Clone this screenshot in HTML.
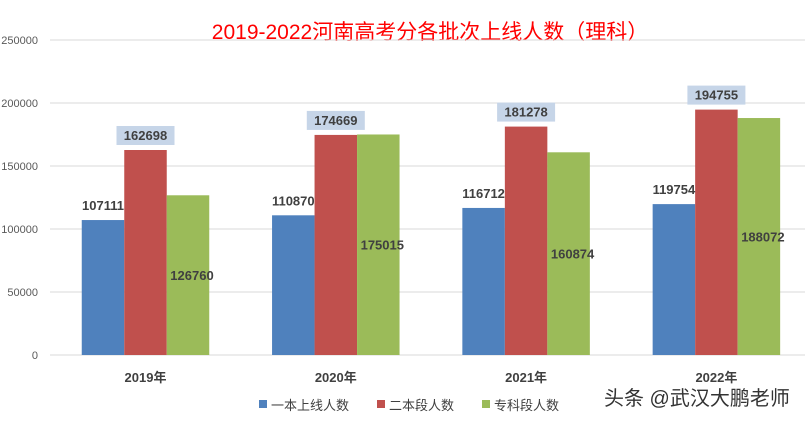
<!DOCTYPE html>
<html><head><meta charset="utf-8"><style>
body{margin:0;background:#fff;width:808px;height:421px;overflow:hidden}
svg text{font-family:"Liberation Sans","Noto Sans CJK SC",sans-serif}
</style></head><body>
<svg id="chart" width="808" height="421">
<text x="430" y="39" text-anchor="middle" font-size="21" fill="#ff0000">2019-2022河南高考分各批次上线人数（理科）</text>
<g id="grid"></g><g id="bars"></g><g id="labels"></g>
<g>
<rect x="259" y="400" width="8" height="8" fill="#4f81bd"/>
<text x="271" y="410" font-size="13" fill="#404040">一本上线人数</text>
<rect x="377" y="400" width="8" height="8" fill="#c0504d"/>
<text x="389" y="410" font-size="13" fill="#404040">二本段人数</text>
<rect x="482" y="400" width="8" height="8" fill="#9bbb59"/>
<text x="494" y="410" font-size="13" fill="#404040">专科段人数</text>
</g>
<text x="604" y="405" font-size="20" fill="#333">头条 @武汉大鹏老师</text>
</svg>
<script>
const categories=["2019年","2020年","2021年","2022年"];
const tier1=[107111,110870,116712,119754];
const tier2=[162698,174669,181278,194755];
const vocational=[126760,175015,160874,188072];
const yTicks=[0,50000,100000,150000,200000,250000];
const NS="http://www.w3.org/2000/svg";
const y0=355,yTop=40,yMax=250000,x0=50,x1=805;
const y=v=>y0-(v/yMax)*(y0-yTop);
const gw=190.3;
const cx=i=>145.5+gw*i;
function mk(tag,attrs,parent){const e=document.createElementNS(NS,tag);for(const k in attrs)e.setAttribute(k,attrs[k]);parent.appendChild(e);return e;}
const grid=document.getElementById('grid'),bars=document.getElementById('bars'),labels=document.getElementById('labels');
yTicks.forEach(t=>{
 const l=mk('line',{x1:x0,x2:x1,y1:y(t),y2:y(t),stroke:'#d9d9d9','stroke-width':1},grid);
 
 
 const tx=mk('text',{x:38,y:y(t)+4,'text-anchor':'end','font-size':11,fill:'#595959'},grid);
 tx.textContent=t;
 
 
});
const bw=42.5;
const series=[[tier1,'#4f81bd','tier1'],[tier2,'#c0504d','tier2'],[vocational,'#9bbb59','vocational']];
categories.forEach((c,i)=>{
 series.forEach(([arr,col,nm],s)=>{
  const bx=cx(i)-bw*1.5+bw*s;
  const r=mk('rect',{x:bx,y:y(arr[i]),width:bw,height:y0-y(arr[i]),fill:col},bars);
  
  
  let ly,lx=bx+bw/2;
  if(s===0){ly=y(arr[i])-10;lx=bx+bw/2;}
  else if(s===1){ly=y(arr[i])-10;
   const b=mk('rect',{x:lx-29,y:ly-14,width:58,height:19,fill:'#c6d5e8'},labels);
   
   }
  else{ly=(y(arr[i])+y0)/2+5;lx=bx+bw/2+4;}
  const t=mk('text',{x:lx,y:ly,'text-anchor':'middle','font-size':13,'font-weight':'bold',fill:'#404040'},labels);
  t.textContent=arr[i];
  
  
 });
 const t=mk('text',{x:cx(i),y:382,'text-anchor':'middle','font-size':13,'font-weight':'bold',fill:'#404040'},labels);
 t.textContent=c;
 
 
});
</script>
</body></html>
